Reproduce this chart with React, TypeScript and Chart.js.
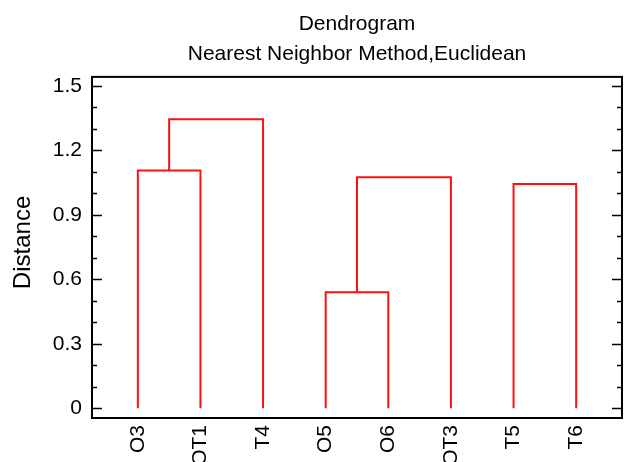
import { useEffect, useRef } from "react";
import { Chart, registerables } from "chart.js";

Chart.register(...registerables);

// Leaves in dendrogram order.
const leafLabels = ["O3", "OT1", "T4", "O5", "O6", "OT3", "T5", "T6"];
// Agglomeration steps: clusters 0-7 are the leaves, step k creates cluster 8 + k.
const mergeLeft = [3, 6, 8, 0, 11];
const mergeRight = [4, 7, 5, 1, 2];
const mergeHeight = [0.54, 1.044, 1.075, 1.107, 1.345];

const yTickValues = [0, 0.3, 0.6, 0.9, 1.2, 1.5];
const yTickLabels = ["0", "0.3", "0.6", "0.9", "1.2", "1.5"];
const yMinorStep = 0.1;

const titleLines = ["Dendrogram", "Nearest Neighbor Method,Euclidean"];
const yAxisTitle = "Distance";

const FONT = "'Liberation Sans', Arial, Helvetica, sans-serif";
const LINK_COLOR = "rgb(255, 16, 16)";

type Pt = { x: number; y: number };

// Turn the merge table into one bracket-shaped polyline per merge.
function buildLinks(): Pt[][] {
  const pos: number[] = leafLabels.map((_, i) => i);
  const height: number[] = leafLabels.map(() => 0);
  return mergeHeight.map((h, k) => {
    const a = mergeLeft[k];
    const b = mergeRight[k];
    const pts = [
      { x: pos[a], y: height[a] },
      { x: pos[a], y: h },
      { x: pos[b], y: h },
      { x: pos[b], y: height[b] },
    ];
    pos.push((pos[a] + pos[b]) / 2);
    height.push(h);
    return pts;
  });
}

// Plot frame with inward major/minor ticks on the left and right edges,
// plus the vertical axis title.
const framePlugin = {
  id: "frame",
  afterDraw(chart: any) {
    const { ctx, chartArea } = chart;
    const { left, right, top, bottom } = chartArea;
    const y = chart.scales.y;
    ctx.save();
    ctx.strokeStyle = "#000";
    ctx.lineWidth = 2;
    ctx.strokeRect(left, top, right - left, bottom - top);
    ctx.lineWidth = 1.5;
    const lo = yTickValues[0];
    const hi = yTickValues[yTickValues.length - 1];
    const n = Math.round((hi - lo) / yMinorStep);
    const majorEvery = Math.round((yTickValues[1] - yTickValues[0]) / yMinorStep);
    for (let i = 0; i <= n; i++) {
      const py = Math.round(y.getPixelForValue(lo + i * yMinorStep)) + 0.5;
      const len = i % majorEvery === 0 ? 10 : 5;
      ctx.beginPath();
      ctx.moveTo(left, py);
      ctx.lineTo(left + len, py);
      ctx.moveTo(right, py);
      ctx.lineTo(right - len, py);
      ctx.stroke();
    }

    ctx.translate(23, (top + bottom) / 2 - 5);
    ctx.rotate(-Math.PI / 2);
    ctx.fillStyle = "#000";
    ctx.font = `24px ${FONT}`;
    ctx.textAlign = "center";
    ctx.textBaseline = "middle";
    ctx.fillText(yAxisTitle, 0, 0);
    ctx.restore();
  },
};

export default function App() {
  const canvasRef = useRef<HTMLCanvasElement | null>(null);

  useEffect(() => {
    const canvas = canvasRef.current;
    if (!canvas) return;
    const links = buildLinks();

    const chart = new Chart(canvas, {
      type: "scatter",
      data: {
        datasets: links.map((pts) => ({
          data: pts,
          showLine: true,
          borderColor: LINK_COLOR,
          backgroundColor: LINK_COLOR,
          borderWidth: 2,
          pointRadius: 0,
          pointHoverRadius: 0,
          fill: false,
          tension: 0,
        })),
      },
      options: {
        responsive: false,
        animation: false,
        events: [],
        layout: { padding: { top: 0, right: 2, bottom: 0, left: 0 } },
        plugins: {
          legend: { display: false },
          tooltip: { enabled: false },
          title: {
            display: true,
            text: titleLines,
            fullSize: false,
            color: "#000",
            font: { family: FONT, size: 21, weight: "normal", lineHeight: 1.45 },
            padding: { top: 9, bottom: 7 },
          },
        },
        scales: {
          x: {
            type: "linear",
            min: -0.732,
            max: leafLabels.length - 1 + 0.732,
            grid: { display: false, drawTicks: false },
            border: { display: false },
            afterBuildTicks: (scale: any) => {
              scale.ticks = leafLabels.map((_, i) => ({ value: i }));
            },
            afterFit: (scale: any) => {
              scale.height = 44;
            },
            ticks: {
              autoSkip: false,
              minRotation: 90,
              maxRotation: 90,
              padding: 7,
              color: "#000",
              font: { family: FONT, size: 21 },
              callback: (_v: any, i: number) => leafLabels[i],
            },
          },
          y: {
            type: "linear",
            min: -0.045,
            max: 1.542,
            grid: { display: false, drawTicks: false },
            border: { display: false },
            afterBuildTicks: (scale: any) => {
              scale.ticks = yTickValues.map((v) => ({ value: v }));
            },
            afterFit: (scale: any) => {
              scale.width = 92;
            },
            ticks: {
              padding: 10,
              color: "#000",
              font: { family: FONT, size: 21 },
              callback: (_v: any, i: number) => yTickLabels[i],
            },
          },
        },
      },
      plugins: [framePlugin],
    });

    return () => chart.destroy();
  }, []);

  return (
    <div
      style={{
        position: "fixed",
        left: 0,
        top: 0,
        width: 624,
        height: 462,
        overflow: "hidden",
        background: "#fff",
      }}
    >
      <canvas ref={canvasRef} width={624} height={462} style={{ display: "block" }} />
    </div>
  );
}
